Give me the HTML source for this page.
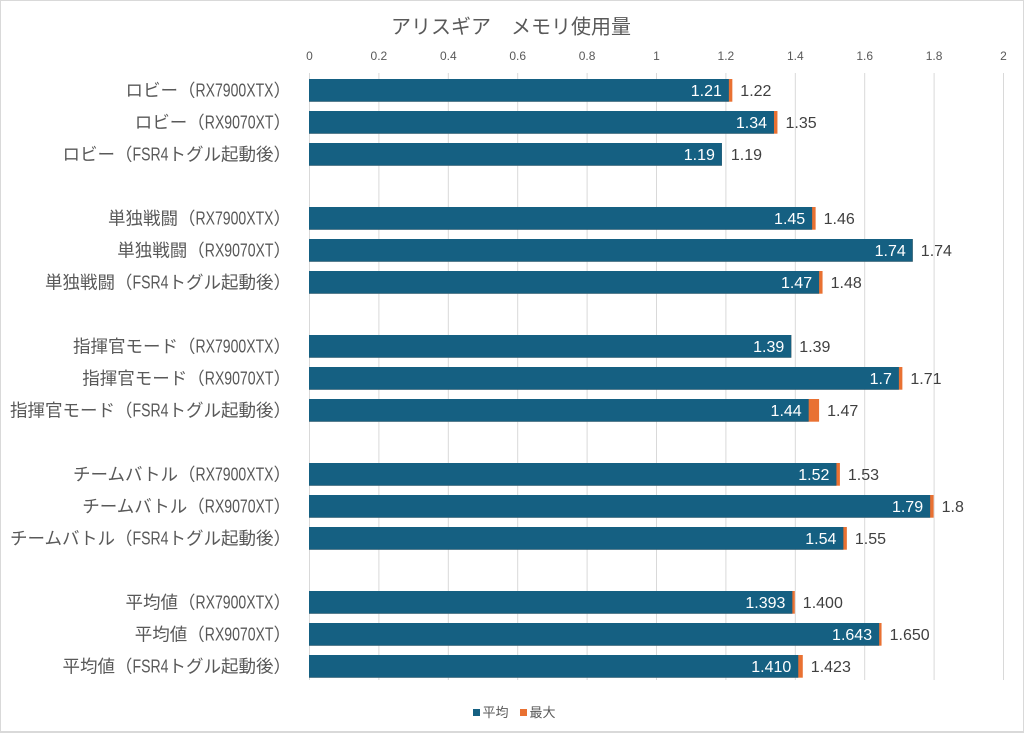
<!DOCTYPE html>
<html><head><meta charset="utf-8">
<style>
html,body{margin:0;padding:0;background:#fff;}
svg{display:block;}
.cj{font-family:"Liberation Sans","Noto Sans CJK JP",sans-serif;font-size:17.5px;fill:#595959;}
.lt{font-family:"Liberation Sans","Noto Sans CJK JP",sans-serif;font-size:18px;fill:#595959;}
.tk{font-family:"Liberation Sans",sans-serif;font-size:12px;fill:#595959;}
.in{font-family:"Liberation Sans",sans-serif;font-size:16px;fill:#ffffff;}
.out{font-family:"Liberation Sans",sans-serif;font-size:16px;fill:#404040;}
.tt{font-family:"Liberation Sans","Noto Sans CJK JP",sans-serif;font-size:20px;fill:#595959;}
.lg{font-family:"Liberation Sans","Noto Sans CJK JP",sans-serif;font-size:13px;fill:#595959;}
</style></head>
<body>
<svg width="1024" height="733" viewBox="0 0 1024 733" xmlns="http://www.w3.org/2000/svg">
<rect x="0" y="0" width="1024" height="733" fill="#fff"/>
<rect x="0.5" y="0.5" width="1023" height="731" fill="none" stroke="#d9d9d9" stroke-width="1"/>
<line x1="0" y1="732" x2="1024" y2="732" stroke="#d9d9d9" stroke-width="2"/>

<text class="tt" x="511" y="33.5" text-anchor="middle">アリスギア　メモリ使用量</text>

<!-- gridlines -->
<g stroke="#d9d9d9" stroke-width="1">
<line x1="309.5" y1="73" x2="309.5" y2="680"/>
<line x1="378.9" y1="73" x2="378.9" y2="680"/>
<line x1="448.3" y1="73" x2="448.3" y2="680"/>
<line x1="517.7" y1="73" x2="517.7" y2="680"/>
<line x1="587.1" y1="73" x2="587.1" y2="680"/>
<line x1="656.5" y1="73" x2="656.5" y2="680"/>
<line x1="725.9" y1="73" x2="725.9" y2="680"/>
<line x1="795.3" y1="73" x2="795.3" y2="680"/>
<line x1="864.7" y1="73" x2="864.7" y2="680"/>
<line x1="934.1" y1="73" x2="934.1" y2="680"/>
<line x1="1003.5" y1="73" x2="1003.5" y2="680"/>
</g>
<g class="tk" text-anchor="middle">
<text x="309.5" y="60" class="tk">0</text>
<text x="378.9" y="60" class="tk">0.2</text>
<text x="448.3" y="60" class="tk">0.4</text>
<text x="517.7" y="60" class="tk">0.6</text>
<text x="587.1" y="60" class="tk">0.8</text>
<text x="656.5" y="60" class="tk">1</text>
<text x="725.9" y="60" class="tk">1.2</text>
<text x="795.3" y="60" class="tk">1.4</text>
<text x="864.7" y="60" class="tk">1.6</text>
<text x="934.1" y="60" class="tk">1.8</text>
<text x="1003.5" y="60" class="tk">2</text>
</g>

<!-- orange (max) bars -->
<g fill="#E97132">
<rect x="309" y="79" width="423.34" height="22.7"/>
<rect x="309" y="111" width="468.45" height="22.7"/>
<rect x="309" y="143" width="412.93" height="22.7"/>
<rect x="309" y="207" width="506.62" height="22.7"/>
<rect x="309" y="239" width="603.78" height="22.7"/>
<rect x="309" y="271" width="513.56" height="22.7"/>
<rect x="309" y="335" width="482.33" height="22.7"/>
<rect x="309" y="367" width="593.37" height="22.7"/>
<rect x="309" y="399" width="510.09" height="22.7"/>
<rect x="309" y="463" width="530.91" height="22.7"/>
<rect x="309" y="495" width="624.6" height="22.7"/>
<rect x="309" y="527" width="537.85" height="22.7"/>
<rect x="309" y="591" width="485.8" height="22.7"/>
<rect x="309" y="623" width="572.55" height="22.7"/>
<rect x="309" y="655" width="493.78" height="22.7"/>
</g>
<!-- blue (avg) bars -->
<g fill="#156082">
<rect x="309" y="79" width="419.87" height="22.7"/>
<rect x="309" y="111" width="464.98" height="22.7"/>
<rect x="309" y="143" width="412.93" height="22.7"/>
<rect x="309" y="207" width="503.15" height="22.7"/>
<rect x="309" y="239" width="603.78" height="22.7"/>
<rect x="309" y="271" width="510.09" height="22.7"/>
<rect x="309" y="335" width="482.33" height="22.7"/>
<rect x="309" y="367" width="589.9" height="22.7"/>
<rect x="309" y="399" width="499.68" height="22.7"/>
<rect x="309" y="463" width="527.44" height="22.7"/>
<rect x="309" y="495" width="621.13" height="22.7"/>
<rect x="309" y="527" width="534.38" height="22.7"/>
<rect x="309" y="591" width="483.37" height="22.7"/>
<rect x="309" y="623" width="570.12" height="22.7"/>
<rect x="309" y="655" width="489.27" height="22.7"/>
</g>

<!-- inside labels -->
<g class="in" text-anchor="end">
<text class="in" x="721.9" y="96">1.21</text>
<text class="in" x="767" y="128">1.34</text>
<text class="in" x="714.9" y="160">1.19</text>
<text class="in" x="805.2" y="224">1.45</text>
<text class="in" x="905.8" y="256">1.74</text>
<text class="in" x="812.1" y="288">1.47</text>
<text class="in" x="784.3" y="352">1.39</text>
<text class="in" x="891.9" y="384">1.7</text>
<text class="in" x="801.7" y="416">1.44</text>
<text class="in" x="829.4" y="480">1.52</text>
<text class="in" x="923.1" y="512">1.79</text>
<text class="in" x="836.4" y="544">1.54</text>
<text class="in" x="785.4" y="608">1.393</text>
<text class="in" x="872.1" y="640">1.643</text>
<text class="in" x="791.3" y="672">1.410</text>
</g>
<!-- outside labels -->
<g class="out">
<text class="out" x="740.3" y="96">1.22</text>
<text class="out" x="785.5" y="128">1.35</text>
<text class="out" x="730.9" y="160">1.19</text>
<text class="out" x="823.6" y="224">1.46</text>
<text class="out" x="920.8" y="256">1.74</text>
<text class="out" x="830.6" y="288">1.48</text>
<text class="out" x="799.3" y="352">1.39</text>
<text class="out" x="910.4" y="384">1.71</text>
<text class="out" x="827.1" y="416">1.47</text>
<text class="out" x="847.9" y="480">1.53</text>
<text class="out" x="941.6" y="512">1.8</text>
<text class="out" x="854.9" y="544">1.55</text>
<text class="out" x="802.8" y="608">1.400</text>
<text class="out" x="889.6" y="640">1.650</text>
<text class="out" x="810.8" y="672">1.423</text>
</g>

<!-- category labels -->
<!-- row 0 -->
<text class="cj" x="195.5" y="96.6" text-anchor="end">ロビー（</text>
<text class="lt" x="195.5" y="96.6" textLength="78" lengthAdjust="spacingAndGlyphs">RX7900XTX</text>
<text class="cj" x="273.5" y="96.6">）</text>
<!-- row 1 -->
<text class="cj" x="204.8" y="128.6" text-anchor="end">ロビー（</text>
<text class="lt" x="204.8" y="128.6" textLength="68.7" lengthAdjust="spacingAndGlyphs">RX9070XT</text>
<text class="cj" x="273.5" y="128.6">）</text>
<!-- row 2 -->
<text class="cj" x="132.5" y="160.6" text-anchor="end">ロビー（</text>
<text class="lt" x="132.5" y="160.6" textLength="36" lengthAdjust="spacingAndGlyphs">FSR4</text>
<text class="cj" x="168.5" y="160.6">トグル起動後）</text>

<!-- row 4 -->
<text class="cj" x="195.5" y="224.6" text-anchor="end">単独戦闘（</text>
<text class="lt" x="195.5" y="224.6" textLength="78" lengthAdjust="spacingAndGlyphs">RX7900XTX</text>
<text class="cj" x="273.5" y="224.6">）</text>
<!-- row 5 -->
<text class="cj" x="204.8" y="256.6" text-anchor="end">単独戦闘（</text>
<text class="lt" x="204.8" y="256.6" textLength="68.7" lengthAdjust="spacingAndGlyphs">RX9070XT</text>
<text class="cj" x="273.5" y="256.6">）</text>
<!-- row 6 -->
<text class="cj" x="132.5" y="288.6" text-anchor="end">単独戦闘（</text>
<text class="lt" x="132.5" y="288.6" textLength="36" lengthAdjust="spacingAndGlyphs">FSR4</text>
<text class="cj" x="168.5" y="288.6">トグル起動後）</text>

<!-- row 8 -->
<text class="cj" x="195.5" y="352.6" text-anchor="end">指揮官モード（</text>
<text class="lt" x="195.5" y="352.6" textLength="78" lengthAdjust="spacingAndGlyphs">RX7900XTX</text>
<text class="cj" x="273.5" y="352.6">）</text>
<!-- row 9 -->
<text class="cj" x="204.8" y="384.6" text-anchor="end">指揮官モード（</text>
<text class="lt" x="204.8" y="384.6" textLength="68.7" lengthAdjust="spacingAndGlyphs">RX9070XT</text>
<text class="cj" x="273.5" y="384.6">）</text>
<!-- row 10 -->
<text class="cj" x="132.5" y="416.6" text-anchor="end">指揮官モード（</text>
<text class="lt" x="132.5" y="416.6" textLength="36" lengthAdjust="spacingAndGlyphs">FSR4</text>
<text class="cj" x="168.5" y="416.6">トグル起動後）</text>

<!-- row 12 -->
<text class="cj" x="195.5" y="480.6" text-anchor="end">チームバトル（</text>
<text class="lt" x="195.5" y="480.6" textLength="78" lengthAdjust="spacingAndGlyphs">RX7900XTX</text>
<text class="cj" x="273.5" y="480.6">）</text>
<!-- row 13 -->
<text class="cj" x="204.8" y="512.6" text-anchor="end">チームバトル（</text>
<text class="lt" x="204.8" y="512.6" textLength="68.7" lengthAdjust="spacingAndGlyphs">RX9070XT</text>
<text class="cj" x="273.5" y="512.6">）</text>
<!-- row 14 -->
<text class="cj" x="132.5" y="544.6" text-anchor="end">チームバトル（</text>
<text class="lt" x="132.5" y="544.6" textLength="36" lengthAdjust="spacingAndGlyphs">FSR4</text>
<text class="cj" x="168.5" y="544.6">トグル起動後）</text>

<!-- row 16 -->
<text class="cj" x="195.5" y="608.6" text-anchor="end">平均値（</text>
<text class="lt" x="195.5" y="608.6" textLength="78" lengthAdjust="spacingAndGlyphs">RX7900XTX</text>
<text class="cj" x="273.5" y="608.6">）</text>
<!-- row 17 -->
<text class="cj" x="204.8" y="640.6" text-anchor="end">平均値（</text>
<text class="lt" x="204.8" y="640.6" textLength="68.7" lengthAdjust="spacingAndGlyphs">RX9070XT</text>
<text class="cj" x="273.5" y="640.6">）</text>
<!-- row 18 -->
<text class="cj" x="132.5" y="672.6" text-anchor="end">平均値（</text>
<text class="lt" x="132.5" y="672.6" textLength="36" lengthAdjust="spacingAndGlyphs">FSR4</text>
<text class="cj" x="168.5" y="672.6">トグル起動後）</text>

<!-- legend -->
<rect x="473" y="709" width="7" height="7" fill="#156082"/>
<text class="lg" x="482.5" y="717">平均</text>
<rect x="520" y="709" width="7" height="7" fill="#E97132"/>
<text class="lg" x="529.5" y="717">最大</text>
</svg>
</body></html>
